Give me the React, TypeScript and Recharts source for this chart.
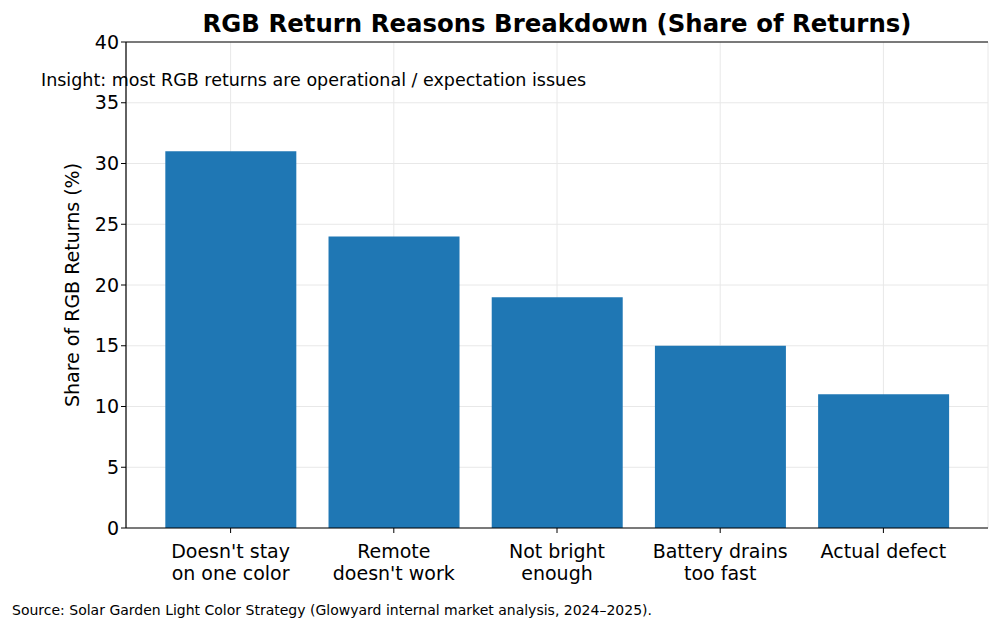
import { BarChart, Bar, XAxis, YAxis, CartesianGrid, ReferenceLine } from 'recharts';

const reasons = [
  "Doesn't stay\non one color",
  "Remote\ndoesn't work",
  'Not bright\nenough',
  'Battery drains\ntoo fast',
  'Actual defect',
];
const shares = [31, 24, 19, 15, 11];
const yTicks = [0, 5, 10, 15, 20, 25, 30, 35, 40];

const data = reasons.map((reason, i) => ({ reason, share: shares[i] }));

const FONT = '"DejaVu Sans", sans-serif';

function CategoryTick({ x, y, payload }: any) {
  const lines = String(payload.value).split('\n');
  return (
    <text x={x} y={y} textAnchor="middle" fontFamily={FONT} fontSize={19} fill="#000">
      {lines.map((line, i) => (
        <tspan key={i} x={x} dy={i === 0 ? 23 : 22}>
          {line}
        </tspan>
      ))}
    </text>
  );
}

export default function App() {
  return (
    <div style={{ position: 'relative', width: 1000, height: 630, fontFamily: FONT, background: '#fff' }}>
      <style>{'body{margin:0}'}</style>
      <BarChart
        width={1000}
        height={630}
        data={data}
        margin={{ top: 42, right: 12, bottom: 0, left: 66 }}
        barCategoryGap="10%"
      >
        <CartesianGrid stroke="#e8e8e8" strokeWidth={1} />
        <XAxis
          dataKey="reason"
          interval={0}
          padding={{ left: 23, right: 23 }}
          tick={<CategoryTick />}
          tickLine={{ stroke: '#000' }}
          tickSize={5}
          axisLine={{ stroke: '#000', strokeWidth: 1.2 }}
          height={102}
        />
        <YAxis
          domain={[0, 40]}
          ticks={yTicks}
          interval={0}
          width={60}
          tick={{ fill: '#000', fontSize: 19, fontFamily: FONT }}
          tickLine={{ stroke: '#000' }}
          tickSize={5}
          axisLine={{ stroke: '#000', strokeWidth: 1.2 }}
          label={{
            value: 'Share of RGB Returns (%)',
            angle: -90,
            position: 'insideLeft',
            offset: 0,
            dx: 6,
            style: { textAnchor: 'middle', fontSize: 19, fontFamily: FONT, fill: '#000' },
          }}
        />
        <YAxis
          yAxisId="frame"
          orientation="right"
          width={0}
          tick={false}
          tickLine={false}
          axisLine={{ stroke: '#000', strokeWidth: 1.2 }}
        />
        <ReferenceLine y={40} stroke="#000" strokeWidth={1.2} />
        <Bar dataKey="share" fill="#1f77b4" isAnimationActive={false} />
      </BarChart>
      <div
        style={{
          position: 'absolute',
          left: 126,
          width: 862,
          top: 9,
          textAlign: 'center',
          fontWeight: 'bold',
          fontSize: 24.4,
        }}
      >
        RGB Return Reasons Breakdown (Share of Returns)
      </div>
      <div style={{ position: 'absolute', left: 41, top: 70, fontSize: 17.5 }}>
        Insight: most RGB returns are operational / expectation issues
      </div>
      <div style={{ position: 'absolute', left: 12, top: 602, fontSize: 14 }}>
        Source: Solar Garden Light Color Strategy (Glowyard internal market analysis, 2024–2025).
      </div>
    </div>
  );
}
